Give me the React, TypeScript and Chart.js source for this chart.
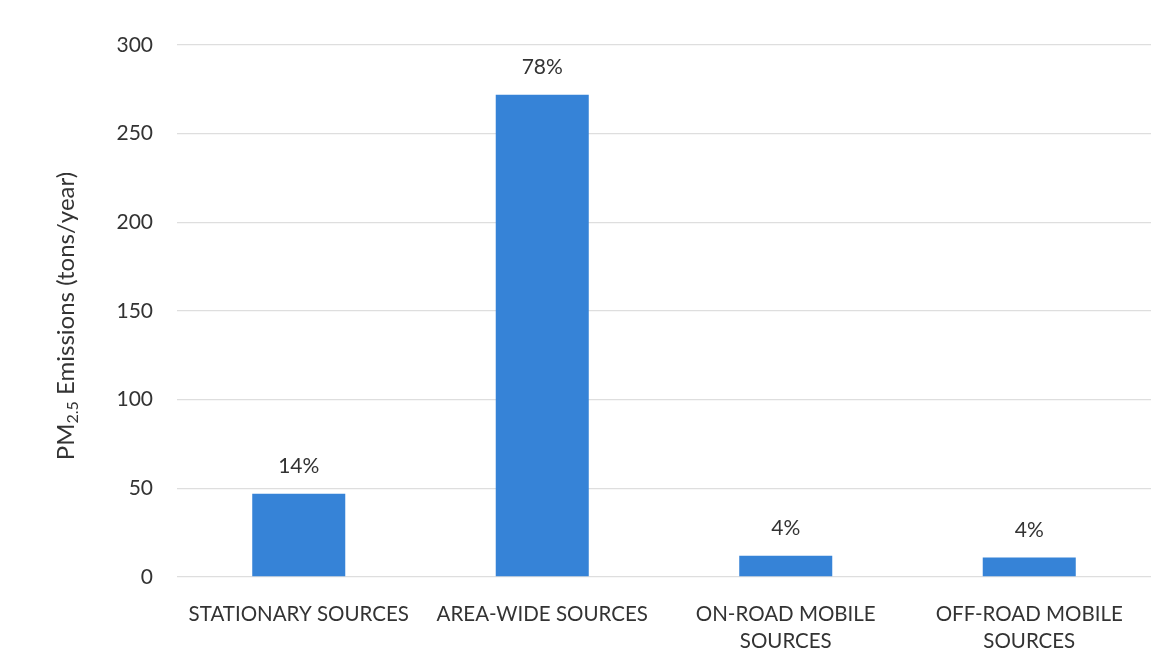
import React, { useEffect, useRef } from "react";
import { Chart, registerables } from "chart.js";

Chart.register(...registerables);

const categories: string[][] = [
  ["STATIONARY SOURCES"],
  ["AREA-WIDE SOURCES"],
  ["ON-ROAD MOBILE", "SOURCES"],
  ["OFF-ROAD MOBILE", "SOURCES"],
];
const emissions: number[] = [47, 272, 12, 11];
const percentLabels: string[] = ["14%", "78%", "4%", "4%"];
const yTicks: number[] = [0, 50, 100, 150, 200, 250, 300];

const FONT = "Lato, 'Open Sans', sans-serif";
const TEXT = "#333333";

const valueLabelPlugin = {
  id: "valueLabels",
  afterDatasetsDraw(chart: any) {
    const ctx = chart.ctx;
    const meta = chart.getDatasetMeta(0);
    ctx.save();
    ctx.font = `21px ${FONT}`;
    ctx.fillStyle = TEXT;
    ctx.textAlign = "center";
    ctx.textBaseline = "middle";
    meta.data.forEach((el: any, i: number) => {
      ctx.fillText(percentLabels[i], el.x, el.y - 27);
    });
    ctx.restore();
  },
};

const yTitlePlugin = {
  id: "yTitleSub",
  afterDraw(chart: any) {
    const ctx = chart.ctx;
    const cy = 316;
    const cx = 66;
    const parts: { t: string; size: number; dy: number }[] = [
      { t: "PM", size: 24, dy: 0 },
      { t: "2.5", size: 16, dy: 7 },
      { t: " Emissions (tons/year)", size: 24, dy: 0 },
    ];
    ctx.save();
    ctx.translate(cx, cy);
    ctx.rotate(-Math.PI / 2);
    ctx.fillStyle = TEXT;
    ctx.textBaseline = "middle";
    ctx.textAlign = "left";
    let total = 0;
    parts.forEach((p) => {
      ctx.font = `${p.size}px ${FONT}`;
      total += ctx.measureText(p.t).width;
    });
    let x = -total / 2;
    parts.forEach((p) => {
      ctx.font = `${p.size}px ${FONT}`;
      ctx.fillText(p.t, x, p.dy);
      x += ctx.measureText(p.t).width;
    });
    ctx.restore();
  },
};

export default function App() {
  const ref = useRef<HTMLCanvasElement | null>(null);
  useEffect(() => {
    if (!ref.current) return;
    const chart = new Chart(ref.current, {
      type: "bar",
      data: {
        labels: categories,
        datasets: [
          {
            data: emissions,
            backgroundColor: "#3683d7",
            borderWidth: 0,
            barPercentage: 0.764,
            categoryPercentage: 0.5,
          },
        ],
      },
      options: {
        animation: false,
        responsive: true,
        maintainAspectRatio: false,
        layout: { padding: { top: 45, right: 17, bottom: 0, left: 0 } },
        plugins: {
          legend: { display: false },
          tooltip: { enabled: false },
        },
        scales: {
          x: {
            grid: { display: false },
            border: { display: false },
            ticks: {
              color: TEXT,
              font: { family: FONT, size: 20.5, lineHeight: 1.3 },
              padding: 16,
              maxRotation: 0,
              autoSkip: false,
            },
            afterFit: (s: any) => {
              s.height = 94;
            },
          },
          y: {
            min: 0,
            max: 300,
            afterBuildTicks: (s: any) => {
              s.ticks = yTicks.map((v) => ({ value: v }));
            },
            grid: { color: "#dedede", drawTicks: false, lineWidth: 1.3 },
            border: { display: false },
            ticks: {
              color: TEXT,
              font: { family: FONT, size: 21 },
              padding: 24,
            },
            afterFit: (s: any) => {
              s.width = 177;
            },
          },
        },
      },
      plugins: [valueLabelPlugin, yTitlePlugin],
    });
    return () => chart.destroy();
  }, []);
  return (
    <div style={{ position: "fixed", left: 0, top: 0, width: 1168, height: 671, background: "#fff" }}>
      <canvas ref={ref} />
    </div>
  );
}
